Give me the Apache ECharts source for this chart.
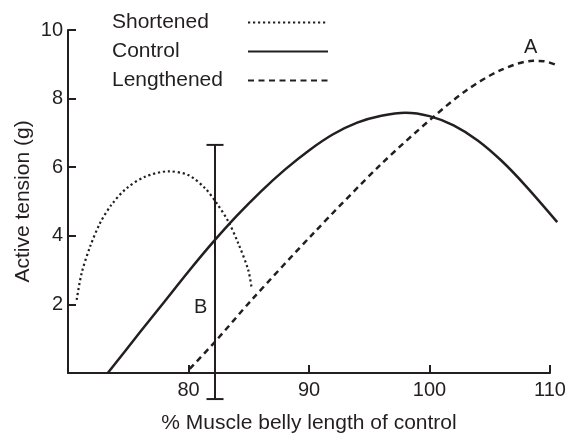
<!DOCTYPE html>
<html>
<head>
<meta charset="utf-8">
<script src="https://cdn.jsdelivr.net/npm/echarts@6/dist/echarts.min.js"></script>
<style>
  html, body { margin: 0; padding: 0; background: #fff; }
  #main { width: 566px; height: 434px; }
</style>
</head>
<body>
<div id="main"></div>
<script>
// curves: [% length, tension (g)]
var shortened = [
  [70.72, 2.13], [71.13, 2.91], [71.83, 3.68], [72.66, 4.37], [73.6, 4.9],
  [74.87, 5.39], [76.39, 5.72], [78.33, 5.88], [79.98, 5.77], [81.37, 5.39],
  [82.34, 4.95], [83.3, 4.42], [84.13, 3.78], [84.96, 3.0], [85.24, 2.47]
];
var control = [
  [73.3, 0], [76, 1.2], [78, 2.08], [80, 2.96], [82, 3.8], [84, 4.58],
  [86, 5.29], [88, 5.93], [90, 6.49], [92, 6.96], [94, 7.3], [96, 7.5],
  [98, 7.59], [100, 7.49], [102, 7.22], [104, 6.78], [106, 6.18],
  [108, 5.45], [110.6, 4.4]
];
var lengthened = [
  [80.1, 0.12], [82.2, 0.91], [85.24, 2.13], [90.36, 4.07], [95.9, 6.06],
  [100.3, 7.46], [103.1, 8.25], [105.9, 8.83], [108.6, 9.1], [109.5, 9.09],
  [110.6, 8.97]
];
// vertical bar B: [x, low, high]
var barB = [[82.2, -0.76, 6.65]];
var labels = [
  { name: 'A', value: [108.4, 9.5] },
  { name: 'B', value: [81.0, 1.9] }
];
var seriesNames = ['Shortened', 'Control', 'Lengthened'];
var xTicks = [70, 110, 10];   // min, max, step
var yTicks = [0, 10, 2];

var ink = '#231f20';
var font = 'Liberation Sans, Arial, sans-serif';

var chart = echarts.init(document.getElementById('main'));

// second grid is the same plot area but a little wider on the right,
// so the curves can run past 110 without being clipped
var plotW = 566 - 68 - 16;
var pxPerUnit = plotW / (xTicks[1] - xTicks[0]);
var extraRight = 12;
var wideMax = xTicks[1] + extraRight / pxPerUnit;

var hiddenAxis = {
  show: false,
  axisLine: { show: false },
  axisTick: { show: false },
  axisLabel: { show: false },
  splitLine: { show: false }
};

var option = {
  animation: false,
  textStyle: { fontFamily: font },
  grid: [
    { left: 68, right: 16, top: 30, bottom: 61, outerBoundsMode: 'none', containLabel: false },
    { left: 68, right: 16 - extraRight, top: 30, bottom: 61, outerBoundsMode: 'none', containLabel: false }
  ],
  legend: {
    data: seriesNames,
    orient: 'vertical',
    left: 112,
    top: 12,
    padding: 0,
    align: 'right',
    itemWidth: 80,
    itemHeight: 14,
    itemGap: 8,
    itemStyle: { opacity: 0 },
    lineStyle: { opacity: 1 },
    formatter: function (name) { return '{n|' + name + '}'; },
    textStyle: {
      color: ink,
      fontFamily: font,
      rich: { n: { width: 131, align: 'left', fontSize: 21, lineHeight: 21, color: ink, fontFamily: font } }
    }
  },
  xAxis: [
    {
      type: 'value',
      gridIndex: 0,
      min: xTicks[0],
      max: xTicks[1],
      interval: xTicks[2],
      name: '% Muscle belly length of control',
      nameLocation: 'middle',
      nameGap: 40,
      nameTextStyle: { fontSize: 21, color: ink },
      axisLine: { lineStyle: { color: ink, width: 2 } },
      axisTick: { inside: true, length: 8, lineStyle: { color: ink, width: 2 } },
      axisLabel: {
        fontSize: 20, color: ink, margin: 7,
        formatter: function (v) { return v === xTicks[0] ? '' : v; }
      },
      splitLine: { show: false }
    },
    Object.assign({ type: 'value', gridIndex: 1, min: xTicks[0], max: wideMax }, hiddenAxis)
  ],
  yAxis: [
    {
      type: 'value',
      gridIndex: 0,
      min: yTicks[0],
      max: yTicks[1],
      interval: yTicks[2],
      name: 'Active tension (g)',
      nameLocation: 'middle',
      nameGap: 34,
      nameMoveOverlap: false,
      nameTextStyle: { fontSize: 21, color: ink },
      axisLine: { show: true, lineStyle: { color: ink, width: 2 } },
      axisTick: { show: true, inside: true, length: 8, lineStyle: { color: ink, width: 2 } },
      axisLabel: {
        fontSize: 20, color: ink, margin: 5,
        formatter: function (v) { return v === yTicks[0] ? '' : v; }
      },
      splitLine: { show: false }
    },
    Object.assign({ type: 'value', gridIndex: 1, min: yTicks[0], max: yTicks[1] }, hiddenAxis)
  ],
  series: [
    {
      name: 'Shortened',
      type: 'line',
      xAxisIndex: 1,
      yAxisIndex: 1,
      data: shortened,
      smooth: 0.3,
      symbol: 'none',
      clip: false,
      lineStyle: { color: ink, width: 2.2, type: [2.2, 2.8] },
      itemStyle: { color: ink }
    },
    {
      name: 'Control',
      type: 'line',
      xAxisIndex: 1,
      yAxisIndex: 1,
      data: control,
      smooth: 0.3,
      symbol: 'none',
      clip: false,
      lineStyle: { color: ink, width: 2.5 },
      itemStyle: { color: ink }
    },
    {
      name: 'Lengthened',
      type: 'line',
      xAxisIndex: 1,
      yAxisIndex: 1,
      data: lengthened,
      smooth: 0.3,
      symbol: 'none',
      clip: false,
      lineStyle: { color: ink, width: 2.5, type: [6, 4.5] },
      itemStyle: { color: ink }
    },
    {
      type: 'custom',
      xAxisIndex: 1,
      yAxisIndex: 1,
      data: barB,
      clip: false,
      renderItem: function (params, api) {
        var x = api.value(0);
        var lo = api.coord([x, api.value(1)]);
        var hi = api.coord([x, api.value(2)]);
        var half = 8.5;
        var st = { stroke: ink, lineWidth: 2 };
        return {
          type: 'group',
          children: [
            { type: 'line', shape: { x1: lo[0], y1: lo[1], x2: hi[0], y2: hi[1] }, style: st },
            { type: 'line', shape: { x1: hi[0] - half, y1: hi[1], x2: hi[0] + half, y2: hi[1] }, style: st },
            { type: 'line', shape: { x1: lo[0] - half, y1: lo[1], x2: lo[0] + half, y2: lo[1] }, style: st }
          ]
        };
      }
    },
    {
      type: 'scatter',
      xAxisIndex: 1,
      yAxisIndex: 1,
      data: labels,
      symbolSize: 0,
      clip: false,
      itemStyle: { color: ink, opacity: 1 },
      label: {
        show: true,
        position: 'inside',
        formatter: '{b}',
        fontSize: 20,
        color: ink,
        opacity: 1
      }
    }
  ]
};

chart.setOption(option);
</script>
</body>
</html>
